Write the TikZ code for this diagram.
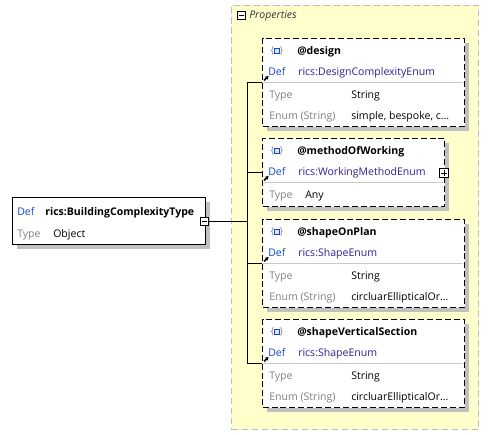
\documentclass[tikz,border=0pt]{standalone}
\usepackage{fontspec}
\setmainfont{Open Sans}
\usetikzlibrary{shadows,arrows.meta}
\definecolor{propyellow}{RGB}{255,255,204}
\definecolor{propborder}{RGB}{190,190,190}
\definecolor{defblue}{RGB}{20,70,210}
\definecolor{refnavy}{RGB}{50,30,150}
\definecolor{labgray}{RGB}{128,128,128}
\definecolor{sepgray}{RGB}{200,200,200}
\definecolor{shadowgray}{RGB}{192,192,192}
\tikzset{
  txt/.style={anchor=west, inner sep=0pt, font=\fontsize{7.9}{9}\selectfont, text height=6pt, text depth=1.5pt},
  hdr/.style={txt, font=\fontsize{7.9}{9}\selectfont\bfseries},
  deflab/.style={txt, text=defblue},
  refval/.style={txt, text=refnavy},
  tlab/.style={txt, text=labgray},
  propbox/.style={draw=black, line width=0.9pt, dash pattern=on 4.5pt off 2.2pt, fill=white, anchor=north west, inner sep=0pt,
    drop shadow={shadow xshift=3pt, shadow yshift=-3pt, fill=shadowgray, opacity=1}},
  mainbox/.style={draw=black, line width=0.75pt, fill=white, anchor=north west, inner sep=0pt,
    drop shadow={shadow xshift=3pt, shadow yshift=-3pt, fill=shadowgray, opacity=1}},
  togglebox/.style={draw=black, line width=0.6pt, fill=white, minimum size=6.3pt, inner sep=0pt},
  conn/.style={draw=black, line width=0.75pt},
  sep/.style={draw=sepgray, line width=0.6pt},
}
\newcommand{\attricon}[2]{% x, y center of header row
  \node[anchor=center, inner sep=0pt, text=labgray, font=\fontsize{7}{8}\selectfont] at (#1-4.5,#2-0.5) {\{};
  \node[anchor=center, inner sep=0pt, text=labgray, font=\fontsize{7}{8}\selectfont] at (#1+4.5,#2-0.5) {\}};
  \draw[draw=defblue, fill=defblue!15, line width=0.6pt] (#1-2.5,#2-3) rectangle (#1+2.5,#2+1.5);
}
\newcommand{\refarrow}[2]{% lower-left point
  \draw[line width=1.1pt, -{Stealth[length=2.5pt,width=3pt]}] (#1,#2) -- (#1+4.5,#2-4.5);
}
\begin{document}
\begin{tikzpicture}[x=0.75pt, y=-0.75pt]
\useasboundingbox (0,0) rectangle (489,435);
% properties container
\node[draw=propborder, line width=0.75pt, dash pattern=on 5pt off 2.5pt, fill=propyellow, anchor=north west, inner sep=0pt,
  minimum width=185.25pt, minimum height=318pt] (props) at (231,5) {};
\node[togglebox, minimum size=6.5pt] (propstoggle) at (241.5,15.5) {};
\draw[line width=0.6pt] ([xshift=-2pt]propstoggle.center) -- ([xshift=2pt]propstoggle.center);
\node[txt, font=\fontsize{7.9}{9}\selectfont\itshape, text=black!80] (propslabel) at (249,16) {Properties};

% main node
\node[mainbox, minimum width=144.75pt, minimum height=35.25pt] (main) at (12,197) {};
\node[deflab] (mdef) at (17,212.5) {Def};
\node[hdr] (mname) at (45,212.5) {rics:BuildingComplexityType};
\node[tlab] (mtypel) at (17,234) {Type};
\node[txt] (mtypev) at (53,234) {Object};
\node[togglebox] (mtoggle) at (204.5,221.5) {};
\draw[line width=0.6pt] ([xshift=-2pt]mtoggle.center) -- ([xshift=2pt]mtoggle.center);

% design
\node[propbox, minimum width=151.5pt, minimum height=66pt] (design) at (262,38) {};
\attricon{277}{51.5}
\node[hdr] (designh) at (297,51.5) {@design};
\node[deflab] (designdef) at (268,72.5) {Def};
\node[refval] (designref) at (298,72.5) {rics:DesignComplexityEnum};
\draw[sep] (263,82) -- (463,82);
\node[tlab] (designtl) at (269,95.5) {Type};
\node[txt] (designtv) at (351,95.5) {String};
\node[tlab] (designel) at (269,116.5) {Enum (String)};
\node[txt] (designev) at (351,116.5) {simple, bespoke, c...};
\refarrow{264}{80.5}

% methodOfWorking
\node[propbox, minimum width=136.5pt, minimum height=51pt] (method) at (262,138) {};
\attricon{277}{151.5}
\node[hdr] (methodh) at (297,151.5) {@methodOfWorking};
\node[deflab] (methoddef) at (268,172.5) {Def};
\node[refval] (methodref) at (298,172.5) {rics:WorkingMethodEnum};
\draw[sep] (263,182) -- (443,182);
\node[tlab] (methodtl) at (269,195.5) {Type};
\node[txt] (methodtv) at (305,195.5) {Any};
\refarrow{264}{180.5}
\node[togglebox] (mplus) at (444,173) {};
\draw[line width=0.6pt] ([xshift=-2pt]mplus.center) -- ([xshift=2pt]mplus.center);
\draw[line width=0.6pt] ([yshift=-2pt]mplus.center) -- ([yshift=2pt]mplus.center);

% shapeOnPlan
\node[propbox, minimum width=151.5pt, minimum height=66pt] (sop) at (262,219) {};
\attricon{277}{232.5}
\node[hdr] (soph) at (297,232.5) {@shapeOnPlan};
\node[deflab] (sopdef) at (268,253.5) {Def};
\node[refval] (sopref) at (298,253.5) {rics:ShapeEnum};
\draw[sep] (263,263) -- (463,263);
\node[tlab] (soptl) at (269,276.5) {Type};
\node[txt] (soptv) at (351,276.5) {String};
\node[tlab] (sopel) at (269,297.5) {Enum (String)};
\node[txt] (sopev) at (351,297.5) {circluarEllipticalOr...};
\refarrow{264}{261.5}

% shapeVerticalSection
\node[propbox, minimum width=151.5pt, minimum height=66pt] (svs) at (262,319) {};
\attricon{277}{332.5}
\node[hdr] (svsh) at (297,332.5) {@shapeVerticalSection};
\node[deflab] (svsdef) at (268,353.5) {Def};
\node[refval] (svsref) at (298,353.5) {rics:ShapeEnum};
\draw[sep] (263,363) -- (463,363);
\node[tlab] (svstl) at (269,376.5) {Type};
\node[txt] (svstv) at (351,376.5) {String};
\node[tlab] (svsel) at (269,397.5) {Enum (String)};
\node[txt] (svsev) at (351,397.5) {circluarEllipticalOr...};
\refarrow{264}{361.5}

% connectors
\coordinate (bus) at (247,221.5);
\draw[conn] (mtoggle.east) -- (bus);
\draw[conn] (bus |- design.west) -- (bus |- svs.west);
\draw[conn] (bus |- design.west) -- (design.west);
\draw[conn] (bus |- method.west) -- (method.west);
\draw[conn] (bus |- sop.west) -- (sop.west);
\draw[conn] (bus |- svs.west) -- (svs.west);
\end{tikzpicture}
\end{document}
